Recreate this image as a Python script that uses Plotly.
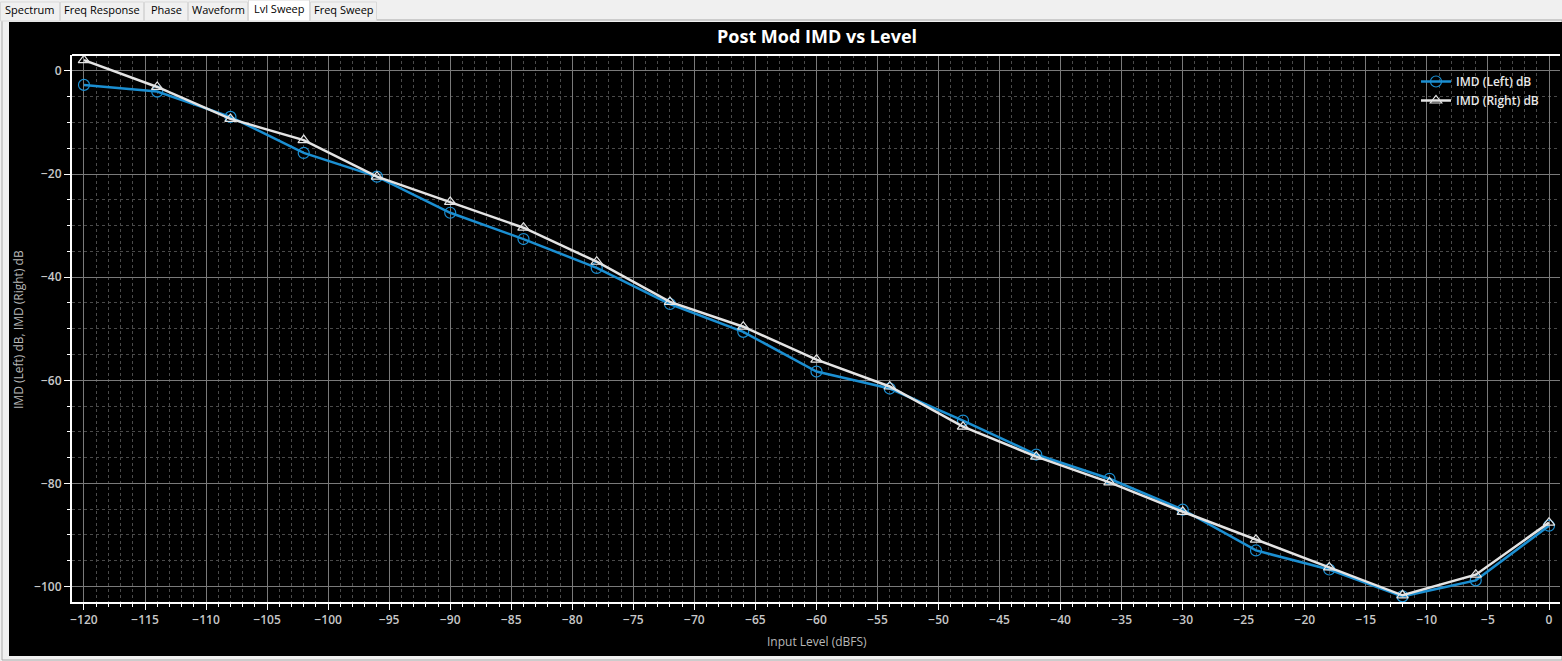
import plotly.graph_objects as go

# ---- data ----
input_level = [-120, -114, -108, -102, -96, -90, -84, -78, -72, -66, -60,
               -54, -48, -42, -36, -30, -24, -18, -12, -6, 0]
imd_left = [-2.7, -4.0, -8.9, -15.9, -20.5, -27.5, -32.6, -38.2, -45.2, -50.6, -58.3,
            -61.6, -67.8, -74.4, -79.1, -85.1, -93.0, -96.7, -101.9, -98.8, -88.2]
imd_right = [2.1, -3.1, -9.3, -13.4, -20.5, -25.4, -30.4, -37.0, -44.8, -49.6, -56.0,
             -61.2, -69.0, -74.8, -79.8, -85.5, -90.9, -96.3, -101.7, -97.7, -87.6]
tab_labels = ["Spectrum", "Freq Response", "Phase", "Waveform", "Lvl Sweep", "Freq Sweep"]
tab_edges = [0, 60, 144, 188, 248, 310, 377]
selected_tab = 4

W, H = 1562, 661
L, R, T, B = 72, 1560, 55, 602


def fx(px):
    return (px - L) / (R - L)


def fy(py):
    return (B - py) / (B - T)


BLUE = "#1b8fd2"
WHITE = "#e4e4e4"
FONT = "Open Sans"

fig = go.Figure()
fig.add_trace(go.Scatter(
    x=input_level, y=imd_left, mode="lines+markers", name="IMD (Left) dB",
    line=dict(color=BLUE, width=2.5),
    marker=dict(symbol="circle-open", size=11, color=BLUE, line=dict(width=1.2, color=BLUE)),
))
fig.add_trace(go.Scatter(
    x=input_level, y=imd_right, mode="lines+markers", name="IMD (Right) dB",
    line=dict(color=WHITE, width=2.5),
    marker=dict(symbol="triangle-up-open", size=10, color=WHITE, line=dict(width=1.2, color=WHITE)),
))

shapes = []
annotations = []
# outer window background + border
shapes.append(dict(type="rect", xref="paper", yref="paper", x0=fx(2), x1=fx(1562), y0=fy(20), y1=fy(660),
                   fillcolor="#f0f0f0", line=dict(color="#a8a8a8", width=1), layer="below"))
# black panel
shapes.append(dict(type="rect", xref="paper", yref="paper", x0=fx(9), x1=fx(1562), y0=fy(22), y1=fy(656),
                   fillcolor="#000000", line=dict(width=0), layer="below"))
# tabs
for i, lab in enumerate(tab_labels):
    x0, x1 = tab_edges[i], tab_edges[i + 1]
    sel = i == selected_tab
    shapes.append(dict(type="rect", xref="paper", yref="paper", x0=fx(x0 + 0.5), x1=fx(x1 - 0.5),
                       y0=fy(0 if sel else 2), y1=fy(21),
                       fillcolor="#ffffff" if sel else "#f0f0f0",
                       line=dict(color="#d9d9d9", width=1), layer="below"))
    annotations.append(dict(text=lab, xref="paper", yref="paper", x=fx((x0 + x1) / 2),
                            y=fy(9 if sel else 10), showarrow=False, xanchor="center", yanchor="middle",
                            font=dict(family=FONT, size=11, color="#000000")))
# top frame line of plot area
shapes.append(dict(type="line", xref="paper", yref="paper", x0=0, x1=1, y0=1, y1=1,
                   line=dict(color="#ffffff", width=2)))
# axis titles
annotations.append(dict(text="Input Level (dBFS)", xref="paper", yref="paper", x=fx(817), y=fy(641),
                        showarrow=False, xanchor="center", yanchor="middle",
                        font=dict(family=FONT, size=12, color="#b8b8b8")))
annotations.append(dict(text="IMD (Left) dB, IMD (Right) dB", xref="paper", yref="paper", x=fx(18),
                        y=fy(329), showarrow=False, xanchor="center", yanchor="middle", textangle=-90,
                        font=dict(family=FONT, size=12, color="#b8b8b8")))

fig.update_layout(
    width=W, height=H,
    margin=dict(l=L, r=W - R, t=T, b=H - B, pad=0),
    paper_bgcolor="#f0f0f0",
    plot_bgcolor="#000000",
    title=dict(text="<b>Post Mod IMD vs Level</b>", x=817 / W, y=1 - 37 / H, xanchor="center",
               yanchor="middle", font=dict(family=FONT, size=18, color="#ffffff")),
    shapes=shapes,
    annotations=annotations,
    showlegend=True,
    legend=dict(x=fx(1416), y=fy(67), xanchor="left", yanchor="top", bgcolor="rgba(0,0,0,0)",
                font=dict(family=FONT, size=12, color="#e8e8e8", weight=600),
                itemwidth=30, tracegroupgap=0),
    xaxis=dict(
        range=[-120.98, 0.9], showline=True, linecolor="#ffffff", linewidth=2,
        tickmode="linear", tick0=-120, dtick=5, ticks="outside", ticklen=6, tickcolor="#ffffff",
        tickwidth=1, showgrid=True, gridcolor="#7a7a7a", gridwidth=1, zeroline=False,
        tickfont=dict(family=FONT, size=12, color="#c8c8c8", weight=600),
        minor=dict(dtick=1, tick0=-120, ticks="outside", ticklen=3, tickcolor="#ffffff", showgrid=True,
                   gridcolor="#4a4a4a", griddash="dot", gridwidth=1),
    ),
    yaxis=dict(
        range=[-103.0, 3.1], showline=True, linecolor="#ffffff", linewidth=2,
        tickmode="linear", tick0=0, dtick=20, ticks="outside", ticklen=6, tickcolor="#ffffff",
        tickwidth=1, showgrid=True, gridcolor="#7a7a7a", gridwidth=1, zeroline=False,
        tickfont=dict(family=FONT, size=12, color="#c8c8c8", weight=600),
        minor=dict(dtick=5, tick0=0, ticks="outside", ticklen=3, tickcolor="#ffffff", showgrid=True,
                   gridcolor="#4a4a4a", griddash="dot", gridwidth=1),
    ),
)

fig.write_html("out.html")
